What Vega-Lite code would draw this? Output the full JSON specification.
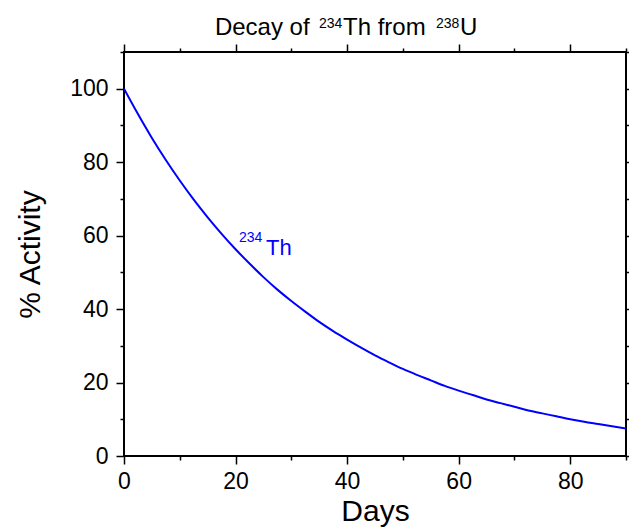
{
  "$schema": "https://vega.github.io/schema/vega-lite/v6.json",
  "width": 502,
  "height": 404,
  "autosize": "none",
  "padding": {"left": 124, "top": 52, "right": 3, "bottom": 71},
  "background": "white",
  "config": {
    "font": "Liberation Sans",
    "view": {"stroke": "black", "strokeWidth": 2},
    "axis": {"domain": false, "grid": false, "tickColor": "black", "tickWidth": 1.5, "labelColor": "black", "titleColor": "black", "labelFont": "Liberation Sans", "titleFont": "Liberation Sans", "titleFontWeight": "normal"}
  },
  "datasets": {
    "decay": [
      {"t": 0, "v": 100}, {"t": 2.5, "v": 93.1}, {"t": 5, "v": 86.6}, {"t": 7.5, "v": 80.6},
      {"t": 10, "v": 75.0}, {"t": 12.5, "v": 69.8}, {"t": 15, "v": 65.0}, {"t": 17.5, "v": 60.5},
      {"t": 20, "v": 56.3}, {"t": 22.5, "v": 52.4}, {"t": 25, "v": 48.7}, {"t": 27.5, "v": 45.3},
      {"t": 30, "v": 42.2}, {"t": 32.5, "v": 39.3}, {"t": 35, "v": 36.5}, {"t": 37.5, "v": 34.0},
      {"t": 40, "v": 31.7}, {"t": 42.5, "v": 29.5}, {"t": 45, "v": 27.4}, {"t": 47.5, "v": 25.5},
      {"t": 50, "v": 23.7}, {"t": 52.5, "v": 22.1}, {"t": 55, "v": 20.6}, {"t": 57.5, "v": 19.1},
      {"t": 60, "v": 17.8}, {"t": 62.5, "v": 16.6}, {"t": 65, "v": 15.4}, {"t": 67.5, "v": 14.4},
      {"t": 70, "v": 13.4}, {"t": 72.5, "v": 12.4}, {"t": 75, "v": 11.6}, {"t": 77.5, "v": 10.8},
      {"t": 80, "v": 10.0}, {"t": 82.5, "v": 9.3}, {"t": 85, "v": 8.7}, {"t": 87.5, "v": 8.1},
      {"t": 90, "v": 7.5}
    ],
    "titleMain": [
      {"t": 16.3, "v": 114.7, "label": "Decay of"},
      {"t": 39.26, "v": 114.7, "label": "Th from"},
      {"t": 60.24, "v": 114.7, "label": "U"}
    ],
    "titleSup": [
      {"t": 34.96, "v": 116.6, "label": "234"},
      {"t": 55.93, "v": 116.6, "label": "238"}
    ],
    "labelMain": [{"t": 25.46, "v": 54.8, "label": "Th"}],
    "labelSup": [{"t": 20.62, "v": 58.34, "label": "234"}]
  },
  "resolve": {"axis": {"x": "independent", "y": "independent"}},
  "layer": [
    {
      "data": {"name": "decay"},
      "mark": {"type": "line", "color": "#0000ff", "strokeWidth": 2, "clip": true, "interpolate": "monotone"},
      "encoding": {
        "x": {"field": "t", "type": "quantitative", "scale": {"domain": [0, 90], "nice": false, "zero": false},
          "axis": {"orient": "bottom", "values": [0, 20, 40, 60, 80], "tickSize": 8, "labelFontSize": 23, "labelPadding": 6, "labelFlush": false, "title": "Days", "titleFontSize": 30, "titlePadding": 3}},
        "y": {"field": "v", "type": "quantitative", "scale": {"domain": [0, 110], "nice": false, "zero": false},
          "axis": {"orient": "left", "values": [0, 20, 40, 60, 80, 100], "tickSize": 8, "labelFontSize": 23, "labelPadding": 8, "labelFlush": false, "title": "% Activity", "titleFontSize": 30, "titlePadding": 24}}
      }
    },
    {
      "data": {"name": "decay"},
      "mark": {"type": "line", "strokeOpacity": 0},
      "encoding": {
        "x": {"field": "t", "type": "quantitative", "axis": {"orient": "bottom", "values": [10, 30, 50, 70, 90], "tickSize": 4, "labels": false, "title": null}},
        "y": {"field": "v", "type": "quantitative", "axis": {"orient": "left", "values": [10, 30, 50, 70, 90, 110], "tickSize": 4, "labels": false, "title": null}}
      }
    },
    {
      "data": {"name": "decay"},
      "mark": {"type": "line", "strokeOpacity": 0},
      "encoding": {
        "x": {"field": "t", "type": "quantitative", "axis": {"orient": "top", "values": [0, 20, 40, 60, 80], "tickSize": 8, "labels": false, "title": null}},
        "y": {"field": "v", "type": "quantitative", "axis": {"orient": "right", "values": [0, 20, 40, 60, 80, 100], "tickSize": 8, "labels": false, "title": null}}
      }
    },
    {
      "data": {"name": "decay"},
      "mark": {"type": "line", "strokeOpacity": 0},
      "encoding": {
        "x": {"field": "t", "type": "quantitative", "axis": {"orient": "top", "values": [10, 30, 50, 70, 90], "tickSize": 4, "labels": false, "title": null}},
        "y": {"field": "v", "type": "quantitative", "axis": {"orient": "right", "values": [10, 30, 50, 70, 90, 110], "tickSize": 4, "labels": false, "title": null}}
      }
    },
    {
      "data": {"name": "titleMain"},
      "mark": {"type": "text", "align": "left", "baseline": "alphabetic", "fontSize": 24, "color": "black"},
      "encoding": {"x": {"field": "t", "type": "quantitative", "axis": null}, "y": {"field": "v", "type": "quantitative", "axis": null}, "text": {"field": "label"}}
    },
    {
      "data": {"name": "titleSup"},
      "mark": {"type": "text", "align": "left", "baseline": "alphabetic", "fontSize": 14, "color": "black"},
      "encoding": {"x": {"field": "t", "type": "quantitative", "axis": null}, "y": {"field": "v", "type": "quantitative", "axis": null}, "text": {"field": "label"}}
    },
    {
      "data": {"name": "labelMain"},
      "mark": {"type": "text", "align": "left", "baseline": "alphabetic", "fontSize": 22, "color": "#0000ff"},
      "encoding": {"x": {"field": "t", "type": "quantitative", "axis": null}, "y": {"field": "v", "type": "quantitative", "axis": null}, "text": {"field": "label"}}
    },
    {
      "data": {"name": "labelSup"},
      "mark": {"type": "text", "align": "left", "baseline": "alphabetic", "fontSize": 14, "color": "#0000ff"},
      "encoding": {"x": {"field": "t", "type": "quantitative", "axis": null}, "y": {"field": "v", "type": "quantitative", "axis": null}, "text": {"field": "label"}}
    }
  ]
}
